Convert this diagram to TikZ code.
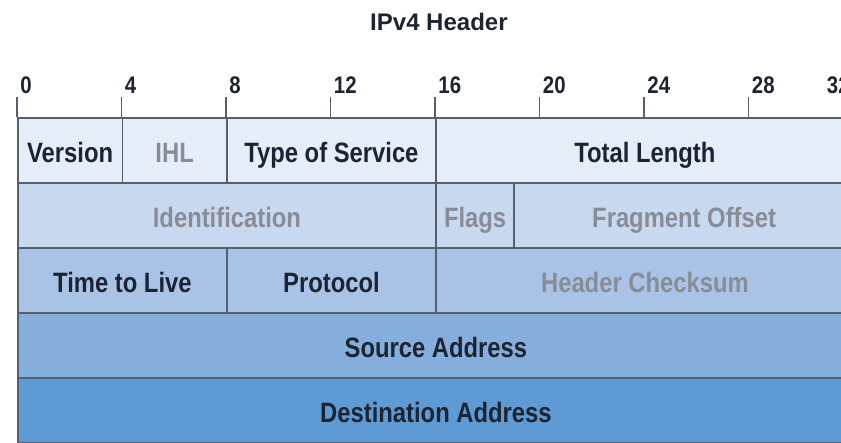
\documentclass[tikz,border=0pt]{standalone}
\usepackage{fontspec}
\setmainfont{Liberation Sans}[FakeStretch=0.85]
\newfontfamily\titlefont{Liberation Sans}
\definecolor{rowA}{HTML}{E5EDF8}
\definecolor{rowB}{HTML}{C8D8EF}
\definecolor{rowC}{HTML}{A8C3E6}
\definecolor{rowD}{HTML}{86AEDC}
\definecolor{rowE}{HTML}{5E9AD3}
\definecolor{linegrey}{HTML}{56606C}
\definecolor{txtdark}{HTML}{1C2433}
\definecolor{txtgrey}{HTML}{878C96}
\newcommand{\bitw}{13.0625pt}

\begin{document}
\begin{tikzpicture}[x=13.0625pt, y=32.5pt]
\useasboundingbox (-0.651,1.8) rectangle (31.54,-5.015);

\tikzset{field/.style={draw=linegrey, line width=0.9pt, anchor=north west, minimum height=32.5pt, inner sep=0pt, text height=12.5pt, text depth=0pt, font=\fontsize{14}{16}\selectfont\bfseries, text=txtdark}}
\tikzset{bits/.style={minimum width=#1*\bitw}}
\tikzset{faint/.style={text=txtgrey}}
\tikzset{bitnum/.style={anchor=base west, inner sep=0pt, xshift=1.5pt, font=\fontsize{12}{14}\selectfont\bfseries, text=txtdark}}
\tikzset{tick/.style={draw=linegrey, line width=0.9pt}}

\node[anchor=base, inner sep=0pt, font=\fontsize{12}{14}\titlefont\bfseries, text=txtdark] (title) at (16.15,1.338) {IPv4 Header};

\node[field, bits=4, fill=rowA] (version) at (0,0) {Version};
\node[field, bits=4, fill=rowA, faint] (ihl) at (4,0) {IHL};
\node[field, bits=8, fill=rowA] (tos) at (8,0) {Type of Service};
\node[field, bits=16, fill=rowA] (totlen) at (16,0) {Total Length};

\node[field, bits=16, fill=rowB, faint] (ident) at (0,-1) {Identification};
\node[field, bits=3, fill=rowB, faint] (flags) at (16,-1) {Flags};
\node[field, bits=13, fill=rowB, faint] (fragoff) at (19,-1) {Fragment Offset};

\node[field, bits=8, fill=rowC] (ttl) at (0,-2) {Time to Live};
\node[field, bits=8, fill=rowC] (proto) at (8,-2) {Protocol};
\node[field, bits=16, fill=rowC, faint] (checksum) at (16,-2) {Header Checksum};

\node[field, bits=32, fill=rowD] (src) at (0,-3) {Source Address};
\node[field, bits=32, fill=rowE] (dst) at (0,-4) {Destination Address};

\foreach \b in {0,4,...,28} {
  \coordinate (top\b) at (\b,0);
  \coordinate (tick\b) at (\b,0.308);
  \draw[tick] (tick\b) -- (top\b);
  \node[bitnum] (num\b) at (\b,0.354) {\b};
}
\node[bitnum, anchor=base east, xshift=-3pt] (num32) at (32,0.354) {32};
\end{tikzpicture}
\end{document}
